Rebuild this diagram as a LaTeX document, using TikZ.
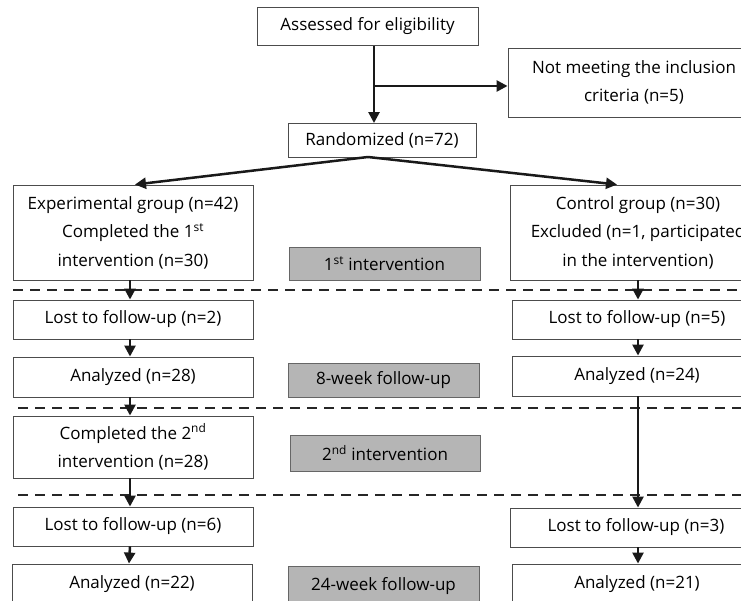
\documentclass[tikz,border=0pt]{standalone}
\usepackage{fontspec}
\setmainfont{Open Sans}
\usetikzlibrary{arrows.meta}
\tikzset{
  flowbox/.style={draw=black!70,line width=0.9pt,fill=white,align=center,
    inner sep=0pt,font=\fontsize{17}{28.5}\selectfont},
  phasebox/.style={draw=black!60,line width=0.9pt,fill=black!29,align=center,
    inner sep=0pt,font=\fontsize{17}{20}\selectfont},
  arr/.style={line width=2.5pt,black!90,-{Triangle[length=11pt,width=11pt]}},
  sep/.style={line width=2.4pt,black!85,dash pattern=on 10pt off 7pt}
}
\begin{document}
\begin{tikzpicture}[x=1pt,y=-1pt]
    \useasboundingbox (0,0) rectangle (741,601);
    \clip (0,0) rectangle (741,601);
    % top part
    \node[flowbox,minimum width=221pt,minimum height=38pt] (assess) at (367.5,26.5) {Assessed for eligibility};
    \node[flowbox,minimum width=252pt,minimum height=69pt] (notmeet) at (634,82.5) {Not meeting the inclusion\\criteria (n=5)};
    \node[flowbox,minimum width=188pt,minimum height=34pt] (random) at (382,140.5) {Randomized (n=72)};
    \coordinate (split) at (374,86);
    \coordinate (rsplit) at (368,157);
    \draw[arr] (assess.south -| split) -- (random.north -| split);
    \draw[arr] (split) -- (split -| notmeet.west);
    % groups
    \node[flowbox,minimum width=240pt,minimum height=95pt] (exp) at (133,232.5)
        {Experimental group (n=42)\\Completed the 1\textsuperscript{st}\\intervention (n=30)};
    \node[flowbox,minimum width=256pt,minimum height=95pt] (ctrl) at (638,232.5)
        {Control group (n=30)\\Excluded (n=1, participated\\in the intervention)};
    \draw[arr] (rsplit) -- ([xshift=2pt]exp.north);
    \draw[arr] (rsplit) -- ([xshift=-21pt]ctrl.north);
    % phase labels
    \node[phasebox,minimum width=191pt,minimum height=33pt,text depth=-10pt] (int1) at (384.5,263.5) {1\textsuperscript{st} intervention};
    \node[phasebox,minimum width=191pt,minimum height=34pt] (fu8) at (383.5,380) {8-week follow-up};
    \node[phasebox,minimum width=190pt,minimum height=36pt] (int2) at (385,453) {2\textsuperscript{nd} intervention};
    \node[phasebox,minimum width=191pt,minimum height=40pt] (fu24) at (383.5,586) {24-week follow-up};
    % experimental column
    \node[flowbox,minimum width=240pt,minimum height=39pt] (lostea) at (133,319.5) {Lost to follow-up (n=2)};
    \node[flowbox,minimum width=240pt,minimum height=40pt] (anea) at (133,377) {Analyzed (n=28)};
    \node[flowbox,minimum width=240pt,minimum height=62pt] (comp2) at (133,447)
        {Completed the 2\textsuperscript{nd}\\intervention (n=28)};
    \node[flowbox,minimum width=240pt,minimum height=39pt] (losteb) at (133,526.5) {Lost to follow-up (n=6)};
    \node[flowbox,minimum width=240pt,minimum height=40pt] (aneb) at (132,584) {Analyzed (n=22)};
    % control column
    \node[flowbox,minimum width=250pt,minimum height=39pt] (lostca) at (637,319.5) {Lost to follow-up (n=5)};
    \node[flowbox,minimum width=250pt,minimum height=40pt] (anca) at (637,376) {Analyzed (n=24)};
    \node[flowbox,minimum width=252pt,minimum height=39pt] (lostcb) at (636,527.5) {Lost to follow-up (n=3)};
    \node[flowbox,minimum width=250pt,minimum height=40pt] (ancb) at (637,584) {Analyzed (n=21)};
    % separators
    \draw[sep] (13,290) -- (741,290);
    \draw[sep] (18,408) -- (741,408);
    \draw[sep] (18,495) -- (741,495);
    % vertical arrows
    \foreach \a/\b in {exp/lostea,lostea/anea,anea/comp2,comp2/losteb,losteb/aneb}
        \draw[arr] ([xshift=-3pt]\a.south) -- ([xshift=-3pt]\b.north);
    \foreach \a/\b in {ctrl/lostca,lostca/anca,anca/lostcb,lostcb/ancb}
        \draw[arr] (\a.south -| 638,0) -- (\b.north -| 638,0);
\end{tikzpicture}
\end{document}
